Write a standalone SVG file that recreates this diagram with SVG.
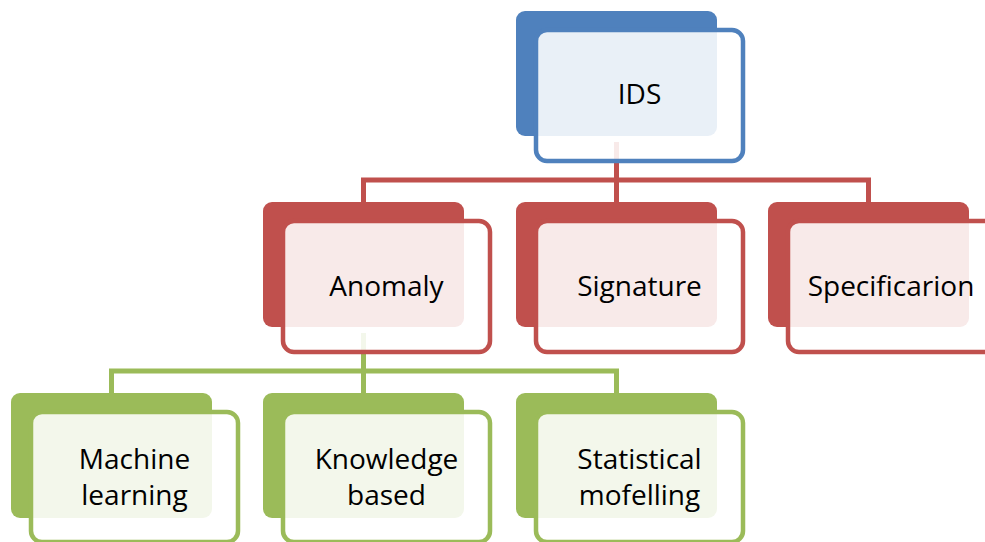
<svg xmlns="http://www.w3.org/2000/svg" width="985" height="542" viewBox="0 0 985 542">
<style>
.bk{stroke:none}
.fr{fill:#ffffff;fill-opacity:0.88;stroke-width:4.5}
.blue .bk{fill:#4f81bd}.blue .fr{stroke:#4f81bd}
.red .bk{fill:#c0504d}.red .fr{stroke:#c0504d}
.green .bk{fill:#9bbb59}.green .fr{stroke:#9bbb59}
text{font-family:"Open Sans","Liberation Sans",sans-serif;font-size:28px;fill:#000;text-anchor:middle}
.cr{fill:none;stroke:#c0504d;stroke-width:5}
.cg{fill:none;stroke:#9bbb59;stroke-width:5}
</style>
<rect width="985" height="542" fill="#ffffff"/>
<g id="connectors">
<path class="cr" d="M616.5,142 V202 M363.5,202 V180 H868.5 V202"/>
<path class="cg" d="M363.5,333 V393 M111.5,393 V371 H616.5 V393"/>
</g>
<g id="ids" class="blue">
<rect class="bk" x="516" y="11" width="201" height="125" rx="9"/>
<rect class="fr" x="536" y="30" width="207" height="131" rx="11"/>
<text x="639.5" y="104">IDS</text>
</g>
<g id="anomaly" class="red">
<rect class="bk" x="263" y="202" width="201" height="125" rx="9"/>
<rect class="fr" x="283" y="221" width="207" height="131" rx="11"/>
<text x="386.5" y="296">Anomaly</text>
</g>
<g id="signature" class="red">
<rect class="bk" x="516" y="202" width="201" height="125" rx="9"/>
<rect class="fr" x="536" y="221" width="207" height="131" rx="11"/>
<text x="639.5" y="296">Signature</text>
</g>
<g id="specification" class="red">
<rect class="bk" x="768" y="202" width="201" height="125" rx="9"/>
<rect class="fr" x="788" y="221" width="207" height="131" rx="11"/>
<text x="891" y="296">Specificarion</text>
</g>
<g id="machine-learning" class="green">
<rect class="bk" x="11" y="393" width="201" height="125" rx="9"/>
<rect class="fr" x="31" y="412" width="207" height="130" rx="11"/>
<text x="134.5" y="469">Machine</text>
<text x="134.5" y="505">learning</text>
</g>
<g id="knowledge-based" class="green">
<rect class="bk" x="263" y="393" width="201" height="125" rx="9"/>
<rect class="fr" x="283" y="412" width="207" height="130" rx="11"/>
<text x="386.5" y="469">Knowledge</text>
<text x="386.5" y="505">based</text>
</g>
<g id="statistical-modelling" class="green">
<rect class="bk" x="516" y="393" width="201" height="125" rx="9"/>
<rect class="fr" x="536" y="412" width="207" height="130" rx="11"/>
<text x="639.5" y="469">Statistical</text>
<text x="639.5" y="505">mofelling</text>
</g>
</svg>
